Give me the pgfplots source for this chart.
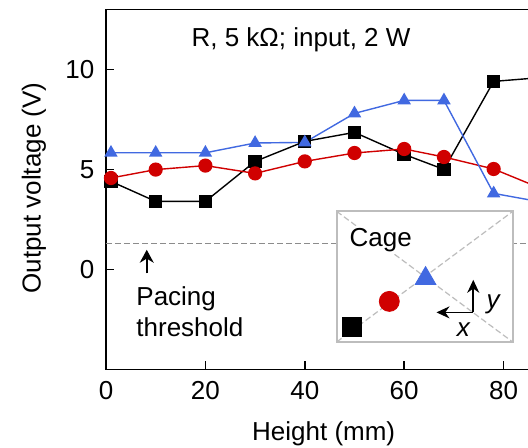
\documentclass[border=0pt]{standalone}
\usepackage{fontspec}
\setmainfont{Liberation Sans}
\usepackage{pgfplots}
\pgfplotsset{compat=1.18}
\usetikzlibrary{arrows.meta}
\definecolor{vblue}{HTML}{4169E1}
\definecolor{vred}{HTML}{D00000}
\definecolor{cagegray}{HTML}{BDBDBD}
\definecolor{threshgray}{HTML}{8C8C8C}

\begin{document}
\begin{tikzpicture}[font=\fontsize{13}{15.8}\selectfont]
\begin{axis}[
  scale only axis, width=213.2pt, height=180pt,
  xmin=0, xmax=85.8, ymin=-5, ymax=13,
  xtick={0,20,40,60,80}, ytick={0,5,10},
  tick align=inside, tick pos=left,
  major tick length=4pt,
  axis line style={line width=0.8pt},
  every tick/.style={line width=0.8pt, black},
  /pgf/number format/assume math mode=true,
  ticklabel style={font=\fontsize{13}{15.6}\selectfont},
  xticklabel style={yshift=-2.5pt},
  yticklabel style={xshift=-2.3pt},
  clip=false,
]
% threshold
\draw[threshgray, line width=0.6pt, dash pattern=on 3pt off 1.5pt] (axis cs:0,1.3) -- (axis cs:85.8,1.3);

% black squares
\addplot[black, line width=0.7pt, mark=square*, mark size=3pt, mark options={solid}]
  coordinates {(1,4.4) (10,3.4) (20,3.4) (30,5.4) (40,6.4) (50,6.85) (60,5.75) (68,5.0) (78,9.4) (88,9.6)};
% red circles
\addplot[vred, line width=0.7pt, mark=*, mark size=3.2pt, mark options={solid}]
  coordinates {(1,4.57) (10,4.99) (20,5.19) (30,4.8) (40,5.4) (50,5.82) (60,6.02) (68,5.62) (78,5.02) (88,4.0)};
% blue triangles
\addplot[vblue, line width=0.7pt, mark=triangle*, mark size=3.2pt, mark options={solid}]
  coordinates {(1,5.83) (10,5.83) (20,5.83) (30,6.32) (40,6.35) (50,7.8) (60,8.45) (68,8.45) (78,3.8) (88,3.35)};

\node[anchor=base] at (axis cs:39.24,11.15) {R, 5 kΩ; input, 2 W};

% pacing threshold note
\draw[-{Stealth[length=6.5pt,width=7pt]}, line width=0.8pt] (axis cs:8.2,-0.2) -- (axis cs:8.2,0.98);
\node[anchor=base west, inner sep=0pt] at (axis cs:6.04,-1.8) {Pacing};
\node[anchor=base west, inner sep=0pt] at (axis cs:6.04,-3.38) {threshold};

% cage inset
\draw[cagegray, line width=0.9pt, fill=white] (axis cs:46.42,-3.63) rectangle (axis cs:81.84,2.9);
\draw[cagegray, line width=0.6pt, dash pattern=on 3pt off 1.5pt] (axis cs:46.42,-3.63) -- (axis cs:81.84,2.9);
\draw[cagegray, line width=0.6pt, dash pattern=on 3pt off 1.5pt] (axis cs:46.42,2.9) -- (axis cs:81.84,-3.63);
\node[anchor=base west, fill=white, inner sep=1pt] at (axis cs:48.55,1.15) {Cage};
\addplot[only marks, black, mark=square*, mark size=4.7pt] coordinates {(49.4,-2.88)};
\addplot[only marks, vred, mark=*, mark size=5pt] coordinates {(57.0,-1.6)};
\addplot[only marks, vblue, mark=triangle*, mark size=6pt] coordinates {(64.3,-0.46)};
\draw[-{Stealth[length=6.5pt,width=6pt]}, line width=0.8pt] (axis cs:73.9,-2.15) -- (axis cs:73.9,-0.52);
\draw[-{Stealth[length=6.5pt,width=6pt]}, line width=0.8pt] (axis cs:73.9,-2.15) -- (axis cs:66.5,-2.15);
\node at (axis cs:77.9,-1.77) {\itshape y};
\node at (axis cs:71.9,-3.0) {\itshape x};

% axis labels
\node[anchor=base, rotate=90] at (axis cs:-13.16,4.07) {Output voltage (V)};
\node[anchor=base] at (axis cs:43.8,-8.56) {Height (mm)};
\end{axis}
\pgfresetboundingbox
\path[use as bounding box] (-53pt,-39.2pt) rectangle (211pt,184.7pt);
\end{tikzpicture}
\end{document}
